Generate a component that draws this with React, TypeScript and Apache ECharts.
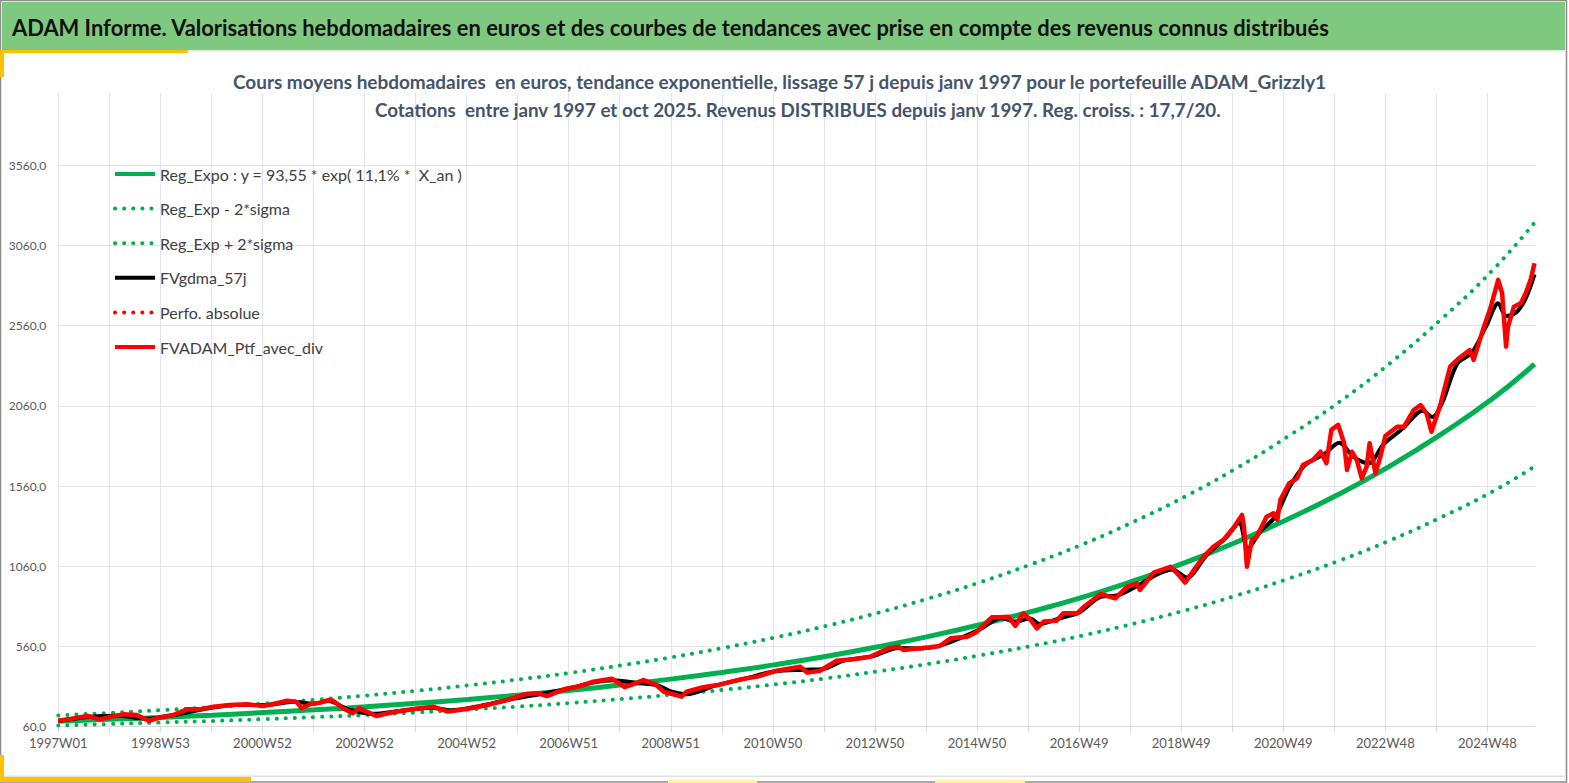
import React, { useEffect, useRef } from "react";
import * as echarts from "echarts";

const TITLE =
  "ADAM Informe. Valorisations hebdomadaires en euros et des courbes de tendances avec prise en compte des revenus connus distribués";
const SUBTITLE_1 =
  "Cours moyens hebdomadaires  en euros, tendance exponentielle, lissage 57 j depuis janv 1997 pour le portefeuille ADAM_Grizzly1";
const SUBTITLE_2 =
  "Cotations  entre janv 1997 et oct 2025. Revenus DISTRIBUES depuis janv 1997. Reg. croiss. : 17,7/20.";

const xTickLabels = [
  "1997W01", "1998W53", "2000W52", "2002W52", "2004W52", "2006W51", "2008W51", "2010W50",
  "2012W50", "2014W50", "2016W49", "2018W49", "2020W49", "2022W48", "2024W48",
];

const seriesNames = [
  "Reg_Expo : y = 93,55 * exp( 11,1% *  X_an )",
  "Reg_Exp - 2*sigma",
  "Reg_Exp + 2*sigma",
  "FVgdma_57j",
  "Perfo. absolue",
  "FVADAM_Ptf_avec_div",
];

// week index since 1997W01
const trendWeeks = [
  0, 52, 104, 157, 209, 261, 313, 365, 417, 470, 522, 574, 626, 678, 731, 783, 835, 887, 939, 991,
  1044, 1096, 1148, 1200, 1252, 1305, 1357, 1409, 1461, 1504,
];
const trendValues = [
  94, 106, 118, 132, 148, 165, 184, 206, 230, 257, 287, 321, 358, 400, 447, 499, 558, 623, 696, 777,
  868, 970, 1083, 1210, 1352, 1510, 1686, 1884, 2104, 2320,
];
const lowerValues = [
  68, 77, 86, 96, 107, 120, 133, 149, 167, 186, 208, 233, 260, 290, 324, 362, 405, 452, 505, 563,
  629, 703, 785, 877, 980, 1095, 1222, 1366, 1525, 1682,
];
const upperValues = [
  130, 146, 163, 182, 204, 228, 254, 284, 317, 355, 396, 443, 494, 552, 617, 689, 770, 860, 960, 1072,
  1198, 1339, 1495, 1670, 1866, 2084, 2327, 2600, 2904, 3202,
];

const priceData: [number, number][] = [
  [0, 97], [15, 112], [30, 127], [42, 106], [55, 124], [66, 137], [80, 133], [92, 97], [104, 119],
  [117, 133], [131, 168], [144, 168], [158, 185], [175, 195], [192, 200], [209, 189], [223, 206],
  [233, 222], [243, 214], [248, 175], [257, 201], [267, 210], [275, 226], [280, 222], [290, 175],
  [300, 144], [307, 175], [314, 154], [324, 127], [338, 147], [355, 164], [368, 175], [382, 185],
  [397, 154], [416, 170], [437, 195], [457, 226], [477, 264], [489, 268], [498, 251], [515, 293],
  [532, 314], [545, 341], [564, 359], [577, 306], [586, 326], [596, 351], [608, 326], [617, 278],
  [635, 247], [640, 278], [657, 306], [674, 322], [695, 355], [712, 372], [732, 409], [756, 434],
  [763, 397], [776, 409], [793, 471], [810, 480], [827, 496], [846, 549], [856, 559], [861, 538],
  [878, 549], [888, 555], [898, 563], [909, 611], [926, 621], [936, 652], [951, 742], [960, 742],
  [968, 746], [975, 688], [983, 767], [990, 730], [997, 673], [1004, 715], [1017, 721], [1024, 767],
  [1038, 767], [1045, 808], [1062, 887], [1077, 860], [1089, 933], [1099, 954], [1102, 912],
  [1116, 1020], [1133, 1057], [1140, 1016], [1148, 958], [1157, 1037], [1167, 1120], [1177, 1182],
  [1187, 1224], [1197, 1297], [1206, 1380], [1208, 1307], [1211, 1057], [1216, 1224], [1221, 1245],
  [1226, 1307], [1231, 1369], [1238, 1390], [1242, 1349], [1245, 1473], [1254, 1577], [1262, 1608],
  [1268, 1691], [1278, 1722], [1286, 1774], [1292, 1702], [1297, 1910], [1304, 1941], [1310, 1827],
  [1313, 1660], [1318, 1774], [1323, 1722], [1328, 1608], [1333, 1681], [1336, 1827], [1342, 1640],
  [1347, 1743], [1352, 1872], [1364, 1930], [1371, 1930], [1381, 2034], [1388, 2065], [1394, 2014],
  [1399, 1899], [1408, 2065], [1418, 2304], [1427, 2357], [1438, 2408], [1442, 2346], [1452, 2544],
  [1459, 2668], [1467, 2845], [1471, 2762], [1475, 2429], [1477, 2554], [1483, 2678], [1490, 2699],
  [1495, 2762], [1500, 2845], [1504, 2949],
];

const smoothData: [number, number][] = [
  [0, 95], [30, 120], [60, 128], [90, 110], [120, 135], [150, 172], [180, 195], [210, 195],
  [240, 215], [260, 203], [275, 220], [295, 170], [320, 140], [350, 160], [380, 178], [400, 162],
  [430, 190], [460, 230], [490, 262], [520, 298], [545, 335], [565, 350], [590, 333], [610, 318],
  [625, 278], [640, 262], [670, 318], [700, 360], [730, 405], [760, 415], [780, 420], [800, 472],
  [830, 500], [856, 550], [880, 548], [898, 565], [920, 615], [940, 670], [960, 738], [975, 715],
  [990, 735], [1000, 700], [1020, 735], [1040, 772], [1062, 870], [1080, 880], [1100, 940],
  [1120, 1010], [1135, 1040], [1150, 990], [1170, 1130], [1190, 1240], [1203, 1330], [1212, 1170],
  [1225, 1280], [1240, 1370], [1255, 1560], [1270, 1690], [1290, 1760], [1305, 1830], [1320, 1740],
  [1335, 1700], [1350, 1820], [1370, 1920], [1390, 2030], [1400, 1990], [1410, 2080], [1425, 2320],
  [1440, 2390], [1455, 2560], [1467, 2700], [1475, 2620], [1485, 2640], [1495, 2730], [1504, 2880],
];

const FONT = "Lato, 'Open Sans', 'DejaVu Sans', sans-serif";
const GREEN = "#00B050";
const RED = "#FF0000";
const YELLOW = "#FFC000";

function measure(text: string, font: string): number {
  const ctx = document.createElement("canvas").getContext("2d");
  if (!ctx) return 1;
  ctx.font = font;
  return ctx.measureText(text).width || 1;
}

function fittedText(text: string, x: number, y: number, width: number, size: number, color: string) {
  const font = `bold ${size}px ${FONT}`;
  const s = width / measure(text, font);
  return {
    type: "text",
    x,
    y,
    scaleX: s,
    style: {
      text,
      fill: color,
      font,
      align: "left",
      verticalAlign: "middle",
    },
    z: 10,
  };
}

export default function App() {
  const ref = useRef<HTMLDivElement>(null);

  useEffect(() => {
    if (!ref.current) return;
    const chart = echarts.init(ref.current, null, { renderer: "svg" });
    const dots = (color: string) => ({ color, width: 4, type: [0.1, 9], cap: "round" });
    const pair = (vals: number[]) => trendWeeks.map((w, i) => [w, vals[i]]);

    chart.setOption({
      animation: false,
      backgroundColor: "#ffffff",
      graphic: [
        { type: "rect", shape: { x: 0.5, y: 0.5, width: 1566, height: 781.5 }, style: { fill: "#ffffff", stroke: "#8c8c8c", lineWidth: 1.5 }, z: -10 },
        { type: "rect", shape: { x: 2, y: 2, width: 1563, height: 48 }, style: { fill: "#7EC97F" }, z: 1 },
        { type: "rect", shape: { x: 2, y: 50, width: 1563, height: 1.5 }, style: { fill: "#DCEBD8" }, z: 1 },
        { type: "rect", shape: { x: 0, y: 50, width: 188, height: 3 }, style: { fill: YELLOW }, z: 2 },
        { type: "rect", shape: { x: 0, y: 50, width: 4, height: 27 }, style: { fill: YELLOW }, z: 2 },
        { type: "rect", shape: { x: 4, y: 775.5, width: 1561, height: 1.5 }, style: { fill: "#E2E2E2" }, z: 1 },
        { type: "rect", shape: { x: 0, y: 777, width: 251, height: 5 }, style: { fill: YELLOW }, z: 2 },
        { type: "rect", shape: { x: 0, y: 755, width: 4, height: 27 }, style: { fill: YELLOW }, z: 2 },
        { type: "rect", shape: { x: 668, y: 780, width: 89, height: 3 }, style: { fill: "#FFF1A8" }, z: 2 },
        { type: "rect", shape: { x: 935, y: 780, width: 90, height: 3 }, style: { fill: "#FFF1A8" }, z: 2 },
        fittedText(TITLE, 12, 27, 1319, 23, "#111111"),
        fittedText(SUBTITLE_1, 233, 82, 1095, 18, "#44546A"),
        fittedText(SUBTITLE_2, 375, 110, 847, 18, "#44546A"),
      ],
      legend: {
        orient: "vertical",
        left: 108,
        top: 161,
        itemWidth: 40,
        itemHeight: 16,
        itemGap: 18.6,
        selectedMode: false,
        data: seriesNames,
        itemStyle: { opacity: 0 },
        lineStyle: { width: 4 },
        textStyle: { fontFamily: FONT, fontSize: 16, color: "#404040" },
      },
      grid: { left: 58.3, right: 33.5, top: 93, bottom: 56.3, containLabel: false },
      xAxis: {
        type: "value",
        min: 0,
        max: 1505,
        interval: 52,
        axisLine: { show: true, lineStyle: { color: "#D9D9D9", width: 1 } },
        axisTick: { show: true, length: 5, lineStyle: { color: "#D9D9D9" } },
        splitLine: { show: true, showMaxLine: false, lineStyle: { color: "#E3E4EA", width: 1 } },
        axisLabel: {
          showMaxLabel: false,
          margin: 10,
          fontFamily: FONT,
          fontSize: 13,
          color: "#595959",
          formatter: (v: number) => (v % 104 === 0 ? xTickLabels[v / 104] ?? "" : ""),
        },
      },
      yAxis: {
        type: "value",
        min: 60,
        max: 4010,
        interval: 500,
        axisLine: { show: false },
        axisTick: { show: false },
        splitLine: { show: true, showMaxLine: false, lineStyle: { color: "#E3E4EA", width: 1 } },
        axisLabel: {
          showMaxLabel: false,
          margin: 12,
          fontFamily: FONT,
          fontSize: 12,
          color: "#595959",
          formatter: (v: number) => (v === 4010 ? "" : v.toFixed(1).replace(".", ",")),
        },
      },
      series: [
        {
          name: seriesNames[0],
          type: "line",
          data: pair(trendValues),
          smooth: true,
          symbol: "none",
          lineStyle: { color: GREEN, width: 5 },
          itemStyle: { color: GREEN },
          z: 2,
        },
        {
          name: seriesNames[1],
          type: "line",
          data: pair(lowerValues),
          smooth: true,
          symbol: "none",
          lineStyle: dots(GREEN),
          itemStyle: { color: GREEN },
          z: 2,
        },
        {
          name: seriesNames[2],
          type: "line",
          data: pair(upperValues),
          smooth: true,
          symbol: "none",
          lineStyle: dots(GREEN),
          itemStyle: { color: GREEN },
          z: 2,
        },
        {
          name: seriesNames[3],
          type: "line",
          data: smoothData,
          smooth: 0.3,
          symbol: "none",
          lineStyle: { color: "#000000", width: 4 },
          itemStyle: { color: "#000000" },
          z: 3,
        },
        {
          name: seriesNames[4],
          type: "line",
          data: [],
          symbol: "none",
          lineStyle: dots(RED),
          itemStyle: { color: RED },
          z: 3,
        },
        {
          name: seriesNames[5],
          type: "line",
          data: priceData,
          symbol: "none",
          lineStyle: { color: RED, width: 4.5, join: "round" },
          itemStyle: { color: RED },
          z: 4,
        },
      ],
    });
    return () => chart.dispose();
  }, []);

  return (
    <div
      ref={ref}
      style={{ position: "absolute", left: 0, top: 0, width: 1569, height: 783, background: "#fff" }}
    />
  );
}
